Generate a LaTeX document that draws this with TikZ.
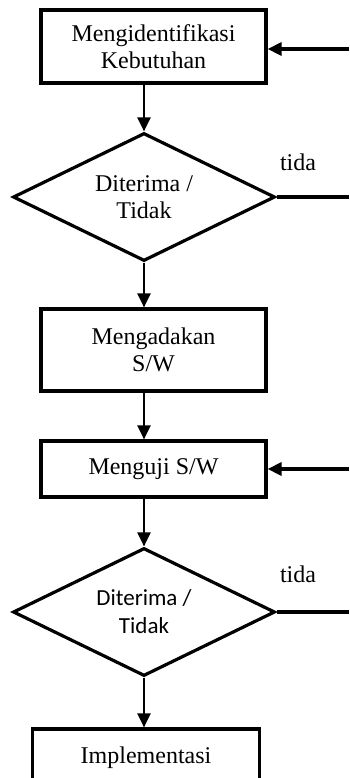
\documentclass[tikz,border=0pt]{standalone}
\usepackage{fontspec}
\setmainfont{Liberation Serif}
\newfontfamily\carlito{Carlito}
\usetikzlibrary{arrows.meta}
\usetikzlibrary{shapes}
\tikzset{
proses/.style={
  align=center,
  draw=black,
  line width=1.6pt,
  minimum width=112.5pt,
  inner sep=0pt
  }
}
\tikzset{
keputusan/.style={
  diamond,
  aspect=2,
  align=center,
  draw=black,
  line width=1.6pt,
  minimum width=131pt,
  minimum height=64pt,
  inner sep=0pt
  }
}
\tikzstyle{alur} = [draw,line width=1.1pt,-{Triangle[length=7pt,width=6.5pt]}]
\tikzstyle{balik} = [draw,line width=1.6pt]

\begin{document}
\begin{tikzpicture}[x=0.5pt, y=-0.5pt, font=\fontsize{12}{13.5}\selectfont]
	\useasboundingbox (0,0) rectangle (349,778);
	%vertices
	\node (b1) at (153.5, 46.5) [proses, minimum height=36.5pt] {Mengidentifikasi\\Kebutuhan};
	\node (d1) at (144, 197) [keputusan] {Diterima /\\Tidak};
	\node (b2) at (153.5, 350) [proses, minimum height=41pt] {Mengadakan\\S/W};
	\node (b3) at (153.5, 469) [proses, minimum height=28pt] {Menguji S/W};
	\node (d2) at (144, 612) [keputusan, font=\carlito\fontsize{11.5}{14}\selectfont] {Diterima /\\Tidak};
	\node (b4) at (146, 758) [proses, minimum width=113.5pt, minimum height=29pt] {Implementasi};

	%labels
	\node (t1) at (298, 162) {tida};
	\node (t2) at (298, 574) {tida};

	%free ends on the right
	\coordinate (k1) at (349, 49);
	\coordinate (k2) at (349, 197);
	\coordinate (k3) at (349, 469);
	\coordinate (k4) at (349, 612);

	%edges
	\draw[alur] (b1.south -| d1.north) -- (d1.north);
	\draw[alur] (d1.south) -- (d1.south |- b2.north);
	\draw[alur] (b2.south -| d1.south) -- (b3.north -| d1.south);
	\draw[alur] (b3.south -| d2.north) -- (d2.north);
	\draw[alur] (d2.south) -- (d2.south |- b4.north);

	\draw[alur, line width=1.6pt] (k1) -- (k1 -| b1.east);
	\draw[balik] (d1.east) -- (k2);
	\draw[alur, line width=1.6pt] (k3) -- (k3 -| b3.east);
	\draw[balik] (d2.east) -- (k4);
\end{tikzpicture}
\end{document}
